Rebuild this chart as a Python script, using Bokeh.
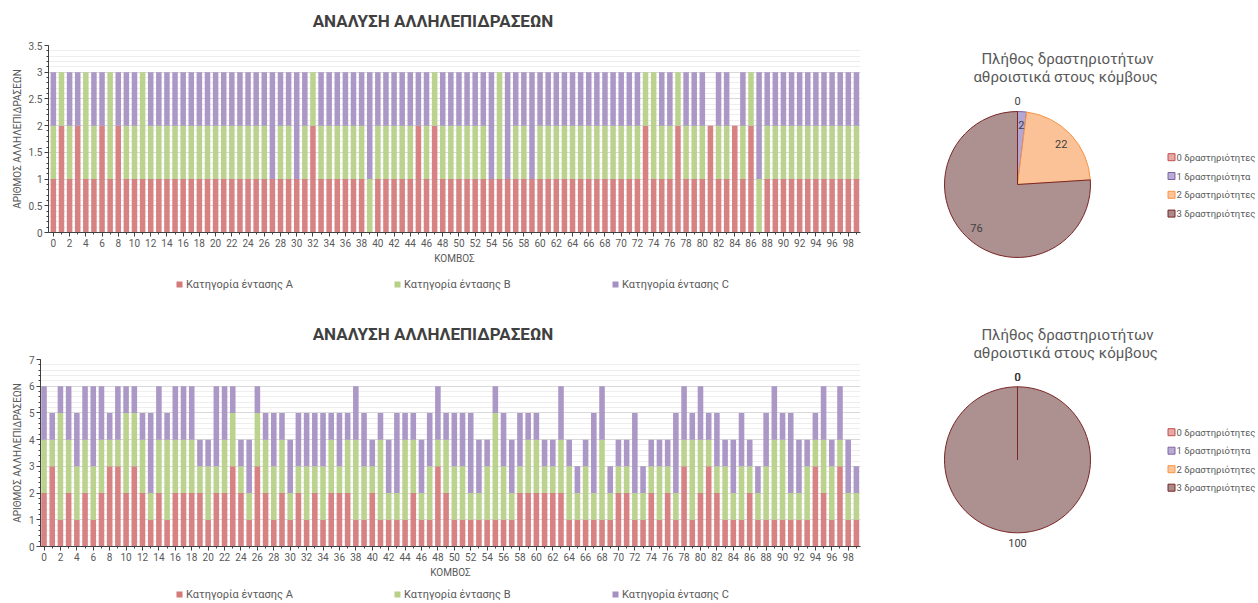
import math
from bokeh.plotting import figure
from bokeh.models import (Range1d, FixedTicker, SingleIntervalTicker,
                          ColumnDataSource, NumeralTickFormatter)
from bokeh.layouts import column, row
from bokeh.embed import file_html
from bokeh.resources import INLINE
from bokeh.core.properties import value

# ---------------- data ----------------
nodes = list(range(100))
x_tick_labels = list(range(0, 100, 2))

top_A = [1, 2, 1, 2, 1, 1, 2, 1, 2, 1,
         1, 1, 1, 1, 1, 1, 1, 1, 1, 1,
         1, 1, 1, 1, 1, 1, 1, 1, 1, 1,
         1, 1, 2, 1, 1, 1, 1, 1, 1, 0,
         1, 1, 1, 1, 1, 2, 1, 2, 1, 1,
         1, 1, 1, 1, 1, 1, 1, 1, 1, 1,
         1, 1, 1, 1, 1, 1, 1, 1, 1, 1,
         1, 1, 1, 2, 1, 1, 1, 2, 1, 1,
         1, 2, 1, 1, 2, 1, 2, 0, 1, 1,
         1, 1, 1, 1, 1, 1, 1, 1, 1, 1]
top_B = [1, 1, 1, 0, 2, 1, 0, 2, 0, 1,
         1, 2, 1, 1, 1, 1, 1, 1, 1, 1,
         1, 1, 1, 1, 1, 1, 1, 0, 1, 1,
         0, 1, 1, 1, 1, 1, 1, 1, 1, 1,
         1, 1, 1, 1, 1, 0, 1, 1, 1, 1,
         1, 1, 1, 1, 0, 2, 0, 1, 1, 0,
         1, 1, 1, 1, 1, 1, 1, 1, 1, 1,
         1, 1, 1, 1, 2, 1, 1, 1, 1, 1,
         1, 0, 1, 1, 0, 1, 1, 1, 1, 1,
         1, 1, 1, 1, 1, 1, 1, 1, 1, 1]
top_C = [1, 0, 1, 1, 0, 1, 1, 0, 1, 1,
         1, 0, 1, 1, 1, 1, 1, 1, 1, 1,
         1, 1, 1, 1, 1, 1, 1, 2, 1, 1,
         2, 1, 0, 1, 1, 1, 1, 1, 1, 2,
         1, 1, 1, 1, 1, 1, 1, 0, 1, 1,
         1, 1, 1, 1, 2, 0, 2, 1, 1, 2,
         1, 1, 1, 1, 1, 1, 1, 1, 1, 1,
         1, 1, 1, 0, 0, 1, 1, 0, 1, 1,
         1, 0, 1, 1, 0, 1, 0, 2, 1, 1,
         1, 1, 1, 1, 1, 1, 1, 1, 1, 1]

bottom_A = [2, 3, 1, 2, 1, 2, 1, 2, 3, 3,
            2, 3, 2, 1, 2, 1, 2, 2, 2, 2,
            1, 2, 2, 3, 2, 1, 3, 2, 1, 2,
            1, 2, 1, 2, 1, 2, 2, 2, 1, 1,
            2, 1, 1, 1, 1, 2, 1, 1, 3, 2,
            1, 1, 1, 1, 1, 1, 1, 1, 2, 2,
            2, 2, 2, 2, 1, 1, 1, 1, 1, 1,
            2, 2, 1, 1, 2, 1, 2, 1, 3, 1,
            2, 3, 2, 1, 1, 1, 2, 1, 1, 1,
            1, 1, 1, 1, 3, 2, 1, 3, 1, 1]
bottom_B = [2, 1, 4, 2, 2, 2, 2, 2, 1, 1,
            3, 2, 2, 1, 2, 3, 2, 2, 2, 1,
            2, 1, 2, 2, 1, 1, 2, 2, 2, 2,
            1, 1, 2, 1, 2, 2, 1, 2, 3, 2,
            1, 3, 1, 1, 3, 2, 1, 2, 1, 2,
            2, 2, 1, 1, 2, 4, 2, 1, 1, 2,
            2, 1, 1, 2, 2, 1, 2, 1, 3, 1,
            1, 1, 1, 1, 1, 2, 1, 1, 1, 3,
            2, 1, 1, 2, 1, 2, 1, 1, 2, 3,
            3, 1, 1, 2, 1, 2, 2, 1, 1, 1]
bottom_C = [2, 1, 1, 2, 2, 2, 3, 2, 1, 2,
            1, 1, 1, 3, 2, 1, 2, 2, 2, 1,
            1, 3, 2, 1, 1, 2, 1, 1, 2, 1,
            2, 2, 2, 2, 2, 1, 2, 1, 2, 2,
            1, 1, 2, 3, 1, 1, 2, 2, 2, 1,
            2, 2, 3, 2, 1, 1, 2, 2, 2, 1,
            1, 1, 1, 2, 1, 1, 1, 3, 2, 1,
            1, 1, 3, 1, 1, 1, 1, 3, 2, 1,
            2, 1, 2, 1, 2, 2, 1, 1, 2, 2,
            1, 3, 2, 1, 1, 2, 1, 2, 2, 1]

series_names = ["Κατηγορία έντασης   A", "Κατηγορία έντασης   B", "Κατηγορία έντασης   C"]
bar_title = "ΑΝΑΛΥΣΗ ΑΛΛΗΛΕΠΙΔΡΑΣΕΩΝ"
x_label = "ΚΟΜΒΟΣ"
y_label = "ΑΡΙΘΜΟΣ ΑΛΛΗΛΕΠΙΔΡΑΣΕΩΝ"

pie_categories = ["0 δραστηριότητες", "1 δραστηριότητα", "2 δραστηριότητες", "3 δραστηριότητες"]
top_pie_counts = [0, 2, 22, 76]
bottom_pie_counts = [0, 0, 0, 100]
pie_title_lines = ["Πλήθος δραστηριοτήτων", "αθροιστικά  στους κόμβους"]

# ---------------- style ----------------
FONT = "Roboto"
TEXT = "#595959"
AXIS = "#404040"
BAR_COLORS = ["#d47a7b", "#b7d088", "#a690c2"]
PIE_FILL = ["#dc9a99", "#b4a7d6", "#fbc197", "#ad9090"]
PIE_LINE = ["#c0504d", "#8064a2", "#f79646", "#7a2626"]
LEG_FILL = ["#e6a9a8", "#b9acd4", "#fbc49a", "#a98b8b"]


def blank_figure(w, h):
    p = figure(frame_width=w, frame_height=h, x_range=Range1d(0, w), y_range=Range1d(0, h),
               title=None, output_backend="svg", toolbar_location=None, frame_align=False,
               min_border_left=0, min_border_right=0, min_border_top=0, min_border_bottom=0)
    p.xaxis.visible = False
    p.yaxis.visible = False
    p.xgrid.visible = False
    p.ygrid.visible = False
    p.outline_line_color = None
    return p


def title_figure(height, y_down):
    p = blank_figure(880, height)
    src = ColumnDataSource(dict(x=[432.5], y=[height - y_down], t=[bar_title]))
    p.text(x="x", y="y", text="t", source=src, text_align="center", text_baseline="middle",
           text_font=value(FONT), text_font_size="17px", text_font_style="bold",
           text_color=AXIS)
    return p


def bar_chart(A, B, C, y_max, y_step, x_start, left, frame_w, frame_h):
    src = ColumnDataSource(dict(node=nodes, A=A, B=B, C=C))
    p = figure(frame_width=frame_w, frame_height=frame_h, title=None,
               x_range=Range1d(x_start, 99.5), y_range=Range1d(0, y_max),
               output_backend="svg", toolbar_location=None, frame_align=False,
               min_border_left=left, min_border_right=880 - left - frame_w,
               min_border_top=6, min_border_bottom=36)
    p.vbar_stack(["A", "B", "C"], x="node", width=0.68, source=src,
                 fill_color=BAR_COLORS, line_color=None, fill_alpha=0.93)

    xt = FixedTicker(ticks=x_tick_labels, minor_ticks=nodes)
    yt = SingleIntervalTicker(interval=y_step, num_minor_ticks=5)
    p.xaxis.ticker = xt
    p.yaxis.ticker = yt
    p.ygrid.ticker = yt
    p.yaxis.formatter = NumeralTickFormatter(format="0.[0]")
    p.xaxis.axis_label = x_label
    p.yaxis.axis_label = y_label
    for ax in (p.xaxis[0], p.yaxis[0]):
        ax.axis_line_color = AXIS
        ax.major_tick_line_color = AXIS
        ax.minor_tick_line_color = AXIS
        ax.major_tick_in = 0
        ax.major_tick_out = 4
        ax.minor_tick_in = 0
        ax.minor_tick_out = 2
        ax.major_label_text_font = FONT
        ax.major_label_text_font_size = "10px"
        ax.major_label_text_color = TEXT
        ax.axis_label_text_font = FONT
        ax.axis_label_text_font_size = "10px"
        ax.axis_label_text_font_style = "normal"
        ax.axis_label_text_color = TEXT
        ax.major_label_standoff = 2
        ax.axis_label_standoff = 3
    p.xgrid.visible = False
    p.ygrid.grid_line_color = "#d9d9d9"
    p.ygrid.minor_grid_line_color = "#eeeeee"
    p.outline_line_color = None
    return p


def bar_legend(height, y_down):
    p = blank_figure(880, height)
    x0, step = 179, 218
    xs = [x0 + i * step for i in range(len(series_names))]
    src = ColumnDataSource(dict(x=xs, tx=[x + 6.5 for x in xs], y=[height - y_down] * len(xs),
                                name=series_names, color=BAR_COLORS))
    p.scatter(x="x", y="y", source=src, marker="square", size=6, fill_color="color",
              line_color=None)
    p.text(x="tx", y="y", text="name", source=src, text_align="left", text_baseline="middle",
           text_font=value(FONT), text_font_size="11px", text_color=TEXT)
    return p


def pie_chart(counts, height, cy_down, title_y_down, legend_y_down, legend_dy):
    W = 378
    p = blank_figure(W, height)
    total = sum(counts)
    R = 73
    cx = 137
    cy = height - cy_down
    starts, ends, lx, ly, lab, fills, lines = [], [], [], [], [], [], []
    cum = 0
    for i, c in enumerate(counts):
        s = math.pi / 2 - 2 * math.pi * cum / total
        cum += c
        e = math.pi / 2 - 2 * math.pi * cum / total
        frac = c / total
        d = R * 0.82 if 0 < frac < 1 else R * 1.14
        m = (s + e) / 2
        lx.append(cx + d * math.cos(m))
        ly.append(cy + d * math.sin(m))
        lab.append(str(c))
        if c > 0:
            if frac >= 1:
                e = s - 2 * math.pi + 1e-4
            starts.append(s)
            ends.append(e)
            fills.append(PIE_FILL[i])
            lines.append(PIE_LINE[i])
    n = len(starts)
    wsrc = ColumnDataSource(dict(x=[cx] * n, y=[cy] * n, start=starts, end=ends,
                                 fill=fills, line=lines))
    p.wedge(x="x", y="y", radius=R, start_angle="start", end_angle="end", direction="clock",
            fill_color="fill", line_color="line", line_width=1, source=wsrc)
    lsrc0 = ColumnDataSource(dict(lx=lx, ly=ly, lab=lab))
    p.text(x="lx", y="ly", text="lab", source=lsrc0, text_align="center",
           text_baseline="middle", text_font=value(FONT), text_font_size="11px",
           text_color=AXIS)

    tsrc = ColumnDataSource(dict(x=[187, 187],
                                 y=[height - title_y_down, height - title_y_down - 18.7],
                                 t=pie_title_lines))
    p.text(x="x", y="y", text="t", source=tsrc, text_align="center", text_baseline="middle",
           text_font=value(FONT), text_font_size="15px", text_color=TEXT)

    ys = [height - legend_y_down - i * legend_dy for i in range(len(pie_categories))]
    lsrc = ColumnDataSource(dict(x=[291] * 4, tx=[296] * 4, y=ys, cat=pie_categories,
                                 fill=LEG_FILL, line=PIE_LINE))
    p.scatter(x="x", y="y", source=lsrc, marker="square", size=7, fill_color="fill",
              line_color="line", line_width=1)
    p.text(x="tx", y="y", text="cat", source=lsrc, text_align="left", text_baseline="middle",
           text_font=value(FONT), text_font_size="9.5px", text_color=TEXT)
    return p


t1 = title_figure(39, 20)
p1 = bar_chart(top_A, top_B, top_C, 3.5, 0.5, -0.6, 48, 812, 187)
leg1 = bar_legend(32, 16)
t2 = title_figure(53, 33)
p2 = bar_chart(bottom_A, bottom_B, bottom_C, 7, 1, -0.43, 40, 820, 187)
leg2 = bar_legend(21, 12)
pie1 = pie_chart(top_pie_counts, 300, 184, 58, 156.7, 18.8)
pie2 = pie_chart(bottom_pie_counts, 302, 159.3, 34, 131.7, 18.5)

layout = column(row(column(t1, p1, leg1), pie1), row(column(t2, p2, leg2), pie2))
open("out.html", "w").write(file_html(layout, INLINE))
